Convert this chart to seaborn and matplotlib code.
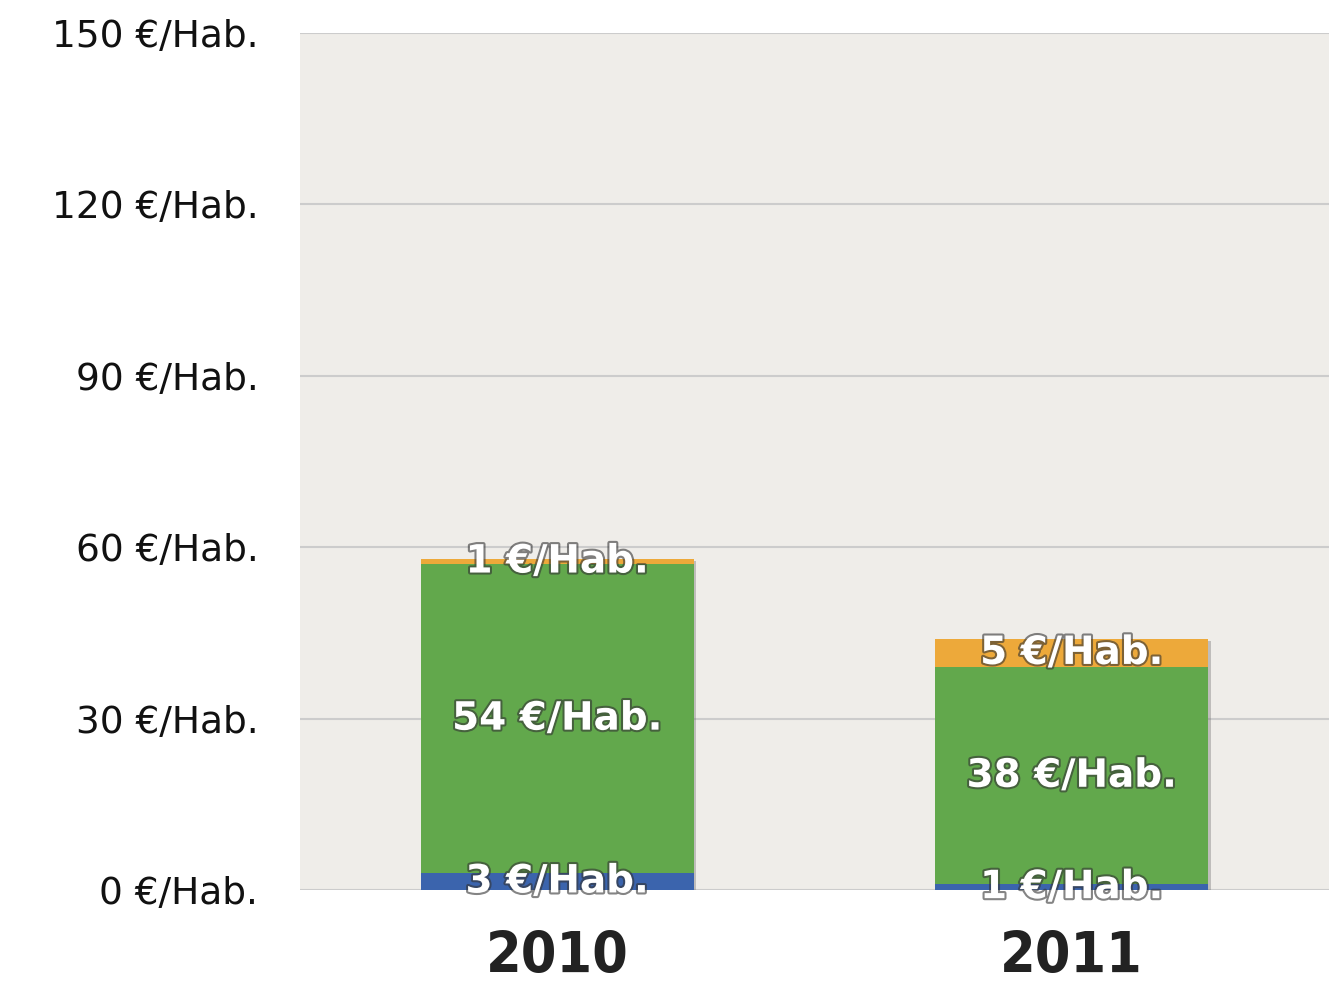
import pandas as pd
import seaborn as sns
import matplotlib.pyplot as plt
import matplotlib.patheffects as pe

years = ['2010', '2011']
blue = [3, 1]
green = [54, 38]
orange = [1, 5]
yticks = [0, 30, 60, 90, 120, 150]

df = pd.DataFrame({'year': years, 'blue': blue, 'green': green, 'orange': orange})
df['bg'] = df['blue'] + df['green']
df['total'] = df['bg'] + df['orange']

sns.set_theme(style="white")
plt.rcParams['font.family'] = ['DejaVu Sans']

fig = plt.figure(figsize=(13.29, 9.89), dpi=100)
ax = fig.add_axes([0.2257, 0.1001, 0.7743, 0.8665])
ax.set_facecolor('#efede9')

shadow = [pe.SimplePatchShadow(offset=(2, -2), shadow_rgbFace='#666666', alpha=0.35), pe.Normal()]
# stacked by drawing cumulative totals on top of each other
for col, color in [('total', '#eda93a'), ('bg', '#62a84c'), ('blue', '#3b64ad')]:
    sns.barplot(data=df, x='year', y=col, color=color, width=0.53, ax=ax,
                saturation=1, linewidth=0, zorder=3)

for p in ax.patches[:2]:
    p.set_path_effects(shadow)

ax.set_xlim(-0.5, 1.5)
ax.set_ylim(0, 150)
ax.set_yticks(yticks)
ax.set_yticklabels([f'{v} €/Hab.' for v in yticks], fontsize=27, color='#111111')
ax.yaxis.grid(True, color='#cccccc', linewidth=1.5, zorder=0)
ax.set_axisbelow(True)
ax.tick_params(axis='y', pad=30, length=0)
ax.tick_params(axis='x', pad=29, length=0)
ax.set_xticks(range(len(years)))
ax.set_xticklabels(years, fontsize=41, fontweight='bold', color='#222222',
                   fontstretch='condensed')
ax.set_xlabel('')
ax.set_ylabel('')
sns.despine(ax=ax, left=True, bottom=True, top=True, right=True)

txt_fx = [pe.withStroke(linewidth=3, foreground='#333333', alpha=0.6)]
for i in range(len(years)):
    segs = [(blue[i], 0), (green[i], blue[i]), (orange[i], blue[i] + green[i])]
    for val, base in segs:
        ax.text(i, base + val / 2, f'{val} €/Hab.', ha='center', va='center',
                color='white', fontsize=28, fontweight='bold', zorder=5,
                path_effects=txt_fx)

fig.savefig('out.png', dpi=100)
